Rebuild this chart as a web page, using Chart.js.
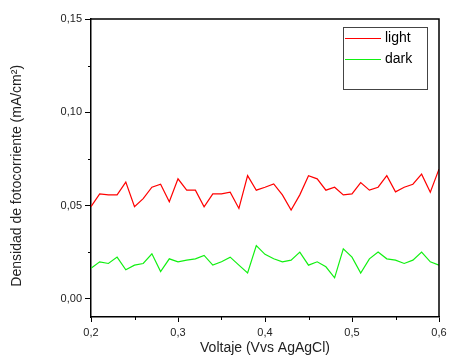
<!DOCTYPE html>
<html>
<head>
    <title>Densidad de fotocorriente</title>
    <script src="https://cdn.jsdelivr.net/npm/chart.js"></script>
    <style>
        body { margin: 0; background: #fff; }
    </style>
</head>
<body>
    <canvas id="myChart" width="451" height="363"></canvas>

    <script>
        // voltage (V vs Ag/AgCl)
        const voltage = [
            0.20, 0.21, 0.22, 0.23, 0.24, 0.25, 0.26, 0.27, 0.28, 0.29,
            0.30, 0.31, 0.32, 0.33, 0.34, 0.35, 0.36, 0.37, 0.38, 0.39,
            0.40, 0.41, 0.42, 0.43, 0.44, 0.45, 0.46, 0.47, 0.48, 0.49,
            0.50, 0.51, 0.52, 0.53, 0.54, 0.55, 0.56, 0.57, 0.58, 0.59,
            0.60
        ];
        const light = [
            0.0494, 0.0562, 0.0557, 0.0557, 0.0625, 0.0493, 0.0537, 0.0598, 0.0614, 0.0520,
            0.0643, 0.0582, 0.0582, 0.0493, 0.0562, 0.0562, 0.0571, 0.0484, 0.0660, 0.0582,
            0.0598, 0.0616, 0.0557, 0.0475, 0.0557, 0.0660, 0.0643, 0.0582, 0.0598, 0.0557,
            0.0562, 0.0623, 0.0582, 0.0598, 0.0660, 0.0573, 0.0598, 0.0614, 0.0668, 0.0571,
            0.0695
        ];
        const dark = [
            0.0164, 0.0198, 0.0189, 0.0223, 0.0155, 0.0180, 0.0189, 0.0241, 0.0146, 0.0214,
            0.0198, 0.0207, 0.0214, 0.0232, 0.0180, 0.0198, 0.0223, 0.0180, 0.0138, 0.0285,
            0.0238, 0.0214, 0.0198, 0.0207, 0.0250, 0.0180, 0.0198, 0.0171, 0.0112, 0.0268,
            0.0223, 0.0138, 0.0214, 0.0250, 0.0214, 0.0207, 0.0189, 0.0207, 0.0250, 0.0198,
            0.0180
        ];
        const xTicks = [0.2, 0.3, 0.4, 0.5, 0.6];
        const yTicks = [0.00, 0.05, 0.10, 0.15];
        const xMinor = [0.25, 0.35, 0.45, 0.55];
        const yMinor = [0.025, 0.075, 0.125];

        const FONT = "'Liberation Sans', Arial, sans-serif";

        // frame on top/right, minor ticks, and the boxed legend
        const framePlugin = {
            id: 'frame',
            afterDraw(chart) {
                const ctx = chart.ctx;
                const a = chart.chartArea;
                const xs = chart.scales.x, ys = chart.scales.y;
                ctx.save();
                ctx.strokeStyle = '#000';
                ctx.lineWidth = 1.5;
                ctx.beginPath();
                ctx.moveTo(a.left, a.top);
                ctx.lineTo(a.right, a.top);
                ctx.lineTo(a.right, a.bottom);
                ctx.stroke();

                ctx.lineWidth = 1;
                ctx.beginPath();
                xMinor.forEach(v => {
                    const px = Math.round(xs.getPixelForValue(v)) + 0.5;
                    ctx.moveTo(px, a.bottom);
                    ctx.lineTo(px, a.bottom + 3);
                });
                yMinor.forEach(v => {
                    const py = Math.round(ys.getPixelForValue(v)) + 0.5;
                    ctx.moveTo(a.left, py);
                    ctx.lineTo(a.left - 3, py);
                });
                ctx.stroke();

                // legend
                const bx = 343, by = 27, bw = 84, bh = 62;
                ctx.strokeStyle = '#444';
                ctx.lineWidth = 1;
                ctx.strokeRect(bx + 0.5, by + 0.5, bw, bh);
                ctx.font = '14px ' + FONT;
                ctx.textBaseline = 'middle';
                ctx.fillStyle = '#000';
                chart.data.datasets.forEach((ds, i) => {
                    const ly = by + 11.5 + i * 21;
                    ctx.strokeStyle = ds.borderColor;
                    ctx.beginPath();
                    ctx.moveTo(bx + 2, ly);
                    ctx.lineTo(bx + 38, ly);
                    ctx.stroke();
                    ctx.fillText(ds.label, bx + 42, ly);
                });
                ctx.restore();
            }
        };

        const ctx = document.getElementById('myChart').getContext('2d');
        const myChart = new Chart(ctx, {
            type: 'line',
            data: {
                datasets: [
                    {
                        label: 'light',
                        data: voltage.map((v, i) => ({ x: v, y: light[i] })),
                        borderColor: '#ff0000',
                        borderWidth: 1.2,
                        pointRadius: 0,
                        tension: 0
                    },
                    {
                        label: 'dark',
                        data: voltage.map((v, i) => ({ x: v, y: dark[i] })),
                        borderColor: '#11f011',
                        borderWidth: 1.2,
                        pointRadius: 0,
                        tension: 0
                    }
                ]
            },
            options: {
                responsive: false,
                animation: false,
                devicePixelRatio: 1,
                layout: { padding: { top: 19, right: 12, left: 0, bottom: 0 } },
                plugins: {
                    legend: { display: false },
                    tooltip: { enabled: false }
                },
                scales: {
                    x: {
                        type: 'linear',
                        min: 0.2,
                        max: 0.6,
                        afterBuildTicks: s => { s.ticks = xTicks.map(v => ({ value: v })); },
                        afterFit: s => { s.height = 46; },
                        border: { color: '#000', width: 1.5 },
                        grid: { drawOnChartArea: false, color: '#000', tickLength: 5 },
                        ticks: {
                            color: '#222',
                            padding: 4,
                            maxRotation: 0,
                            font: { family: FONT, size: 11 },
                            callback: v => v.toFixed(1).replace('.', ',')
                        },
                        title: {
                            display: true,
                            text: 'Voltaje (Vvs AgAgCl)',
                            color: '#222',
                            font: { family: FONT, size: 14 },
                            padding: { top: 0, bottom: 6 }
                        }
                    },
                    y: {
                        min: -0.0098,
                        max: 0.15,
                        afterBuildTicks: s => { s.ticks = yTicks.map(v => ({ value: v })); },
                        afterFit: s => { s.width = 91; },
                        border: { color: '#000', width: 1.5 },
                        grid: { drawOnChartArea: false, color: '#000', tickLength: 6 },
                        ticks: {
                            color: '#222',
                            padding: 3,
                            font: { family: FONT, size: 11 },
                            callback: v => v.toFixed(2).replace('.', ',')
                        },
                        title: {
                            display: true,
                            text: 'Densidad de fotocorriente (mA/cm²)    ',
                            color: '#222',
                            font: { family: FONT, size: 14 },
                            padding: { top: 9, bottom: 0 }
                        }
                    }
                }
            },
            plugins: [framePlugin]
        });
    </script>
</body>
</html>
